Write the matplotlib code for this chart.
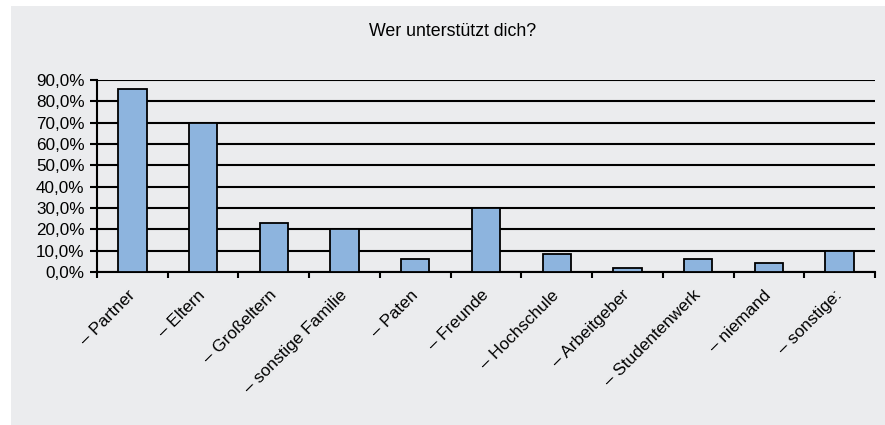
import numpy as np
import matplotlib
matplotlib.use("Agg")
import matplotlib.pyplot as plt
from matplotlib.patches import Rectangle
from matplotlib.ticker import FuncFormatter

plt.rcParams['font.family'] = ['Liberation Sans', 'DejaVu Sans']

# Data
categories = ["– Partner", "– Eltern", "– Großeltern", "– sonstige Familie",
              "– Paten", "– Freunde", "– Hochschule", "– Arbeitgeber",
              "– Studentenwerk", "– niemand", "– sonstige:"]
values = [85.6, 69.7, 22.8, 20.0, 6.0, 30.2, 8.4, 1.7, 6.0, 4.4, 9.8]
y_ticks = [0, 10, 20, 30, 40, 50, 60, 70, 80, 90]

bg = "#ebecee"
bar_colour = "#8db4de"
fs = 12.3

fig = plt.figure(figsize=(8.85, 4.25), dpi=100)
fig.patch.set_facecolor("white")
fig.patches.append(Rectangle((11 / 885, 0), 1, 1 - 6 / 425,
                             transform=fig.transFigure, facecolor=bg,
                             edgecolor="none", zorder=-10))

ax = fig.add_axes([97 / 885, 1 - 272 / 425, (875 - 97) / 885, (272 - 80) / 425])
ax.set_facecolor(bg)

x = np.arange(len(categories))
ax.bar(x, values, width=0.4, color=bar_colour, edgecolor="black",
       linewidth=1.3, zorder=3)

ax.set_xlim(-0.5, len(categories) - 0.5)
ax.set_ylim(0, 90)
ax.set_yticks(y_ticks)
ax.yaxis.set_major_formatter(FuncFormatter(lambda v, p: ("%.1f%%" % v).replace(".", ",")))
ax.grid(axis="y", color="black", linewidth=1.5, zorder=1)
ax.set_axisbelow(True)

# ticks between the categories, labels at the centers
ax.set_xticks(np.arange(len(categories) + 1) - 0.5)
ax.set_xticklabels([])
ax.set_xticks(x, minor=True)
ax.set_xticklabels(categories, minor=True, rotation=45, ha="right",
                   va="center", rotation_mode="anchor", fontsize=fs)
ax.tick_params(axis="x", which="minor", length=0, pad=15)
ax.tick_params(axis="x", which="major", length=4, width=1.5, direction="out")
ax.tick_params(axis="y", length=5, width=1.5, labelsize=fs, pad=4)

for side in ["top", "right"]:
    ax.spines[side].set_visible(False)
for side in ["left", "bottom"]:
    ax.spines[side].set_linewidth(1.5)
    ax.spines[side].set_color("black")

fig.text(453 / 885, 1 - 31 / 425, "Wer unterstützt dich?", ha="center",
         va="center", fontsize=12.8)

fig.savefig("out.png", dpi=100, facecolor=fig.get_facecolor())
